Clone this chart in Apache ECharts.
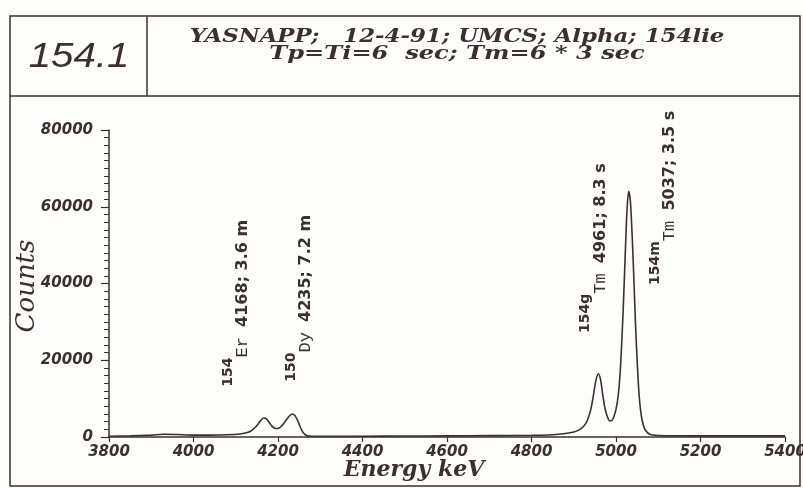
<!DOCTYPE html>
<html>
<head>
<meta charset="utf-8">
<script src="https://cdn.jsdelivr.net/npm/echarts@6/dist/echarts.min.js"></script>
<style>
  html, body { margin: 0; padding: 0; background: #fdfdfb; }
  #chart { width: 803px; height: 488px; }
</style>
</head>
<body>
<div id="chart"></div>
<script>
// spectrum
const energy = [3800, 3850, 3900, 3930, 3960, 4000, 4040, 4080, 4110, 4125, 4135, 4145, 4153, 4160, 4166,
  4172, 4178, 4185, 4192, 4198, 4205, 4212, 4220, 4228, 4234, 4240, 4246, 4252, 4258, 4264, 4270, 4280,
  4300, 4400, 4500, 4600, 4700, 4800, 4850, 4880, 4900, 4915, 4925, 4932, 4940, 4946, 4952, 4958, 4963,
  4968, 4973, 4978, 4985, 4990, 4995, 5000, 5005, 5010, 5015, 5018, 5022, 5026, 5030, 5034, 5038, 5042,
  5046, 5050, 5055, 5060, 5065, 5070, 5080, 5100, 5200, 5300, 5400]
const counts = [200, 300, 500, 700, 650, 500, 500, 600, 800, 1100, 1500, 2400, 3400, 4400, 4950,
  4800, 4000, 2900, 2300, 2200, 2500, 3300, 4500, 5600, 6000, 5600, 4400, 2800, 1400, 600, 300, 200,
  150, 200, 250, 300, 350, 450, 600, 900, 1300, 2000, 3000, 4300, 7000, 10500, 14500, 16500, 15200,
  11500, 8000, 5800, 4200, 4300, 5300, 7200, 10500, 17000, 28000, 36000, 48000, 59000, 64000, 61500, 53000, 42000,
  30000, 20000, 10500, 5500, 3000, 1700, 700, 400, 300, 300, 300]

// peak annotations: [energy, counts] of the label start
const peakMass = ['154', '150', '154g', '154m']
const peakElem = ['Er', 'Dy', 'Tm', 'Tm']
const peakText = ['4168; 3.6 m', '4235; 7.2 m', '4961; 8.3 s', '5037; 3.5 s']
const peakAnchor = [[4101, 13100], [4250, 14400], [4947, 27100], [5111, 39600]]

const ink = '#3b302e'

const chart = echarts.init(document.getElementById('chart'))

const tickFont = {
  color: ink, fontFamily: 'DejaVu Sans', fontStyle: 'italic', fontWeight: 'bold', fontSize: 15
}

const option = {
  backgroundColor: '#fdfdfb',
  animation: false,
  grid: { left: 109, right: 18, top: 130, bottom: 51, outerBoundsMode: 'none', containLabel: false },
  xAxis: {
    type: 'value',
    min: 3800,
    max: 5400,
    interval: 200,
    axisLine: { lineStyle: { color: ink, width: 1.5 } },
    axisTick: { length: 5, lineStyle: { color: ink, width: 1.2 } },
    axisLabel: Object.assign({ margin: 8, formatter: v => String(v) }, tickFont),
    splitLine: { show: false }
  },
  yAxis: {
    type: 'value',
    min: 0,
    max: 80000,
    interval: 20000,
    axisLine: { show: true, lineStyle: { color: ink, width: 1.5 } },
    axisTick: { show: true, length: 8, lineStyle: { color: ink, width: 1.2 } },
    minorTick: { show: true, splitNumber: 10, length: 5, lineStyle: { color: ink, width: 1 } },
    axisLabel: Object.assign({ margin: 16, formatter: v => String(v) }, tickFont),
    splitLine: { show: false }
  },
  series: [{
    type: 'line',
    data: energy.map((e, i) => [e, counts[i]]),
    smooth: 0.3,
    symbol: 'none',
    lineStyle: { color: ink, width: 1.6 },
    markPoint: {
      symbol: 'circle',
      symbolSize: 1,
      itemStyle: { color: 'transparent' },
      data: peakAnchor.map((c, i) => ({
        coord: c,
        label: {
          show: true,
          position: 'inside',
          rotate: 90,
          align: 'left',
          verticalAlign: 'middle',
          lineHeight: 30,
          formatter: '{sup|' + peakMass[i] + '}{el|' + peakElem[i] + ' }{txt|' + peakText[i] + '}',
          rich: {
            sup: { fontFamily: 'DejaVu Sans', fontWeight: 'bold', fontSize: 14, color: ink, verticalAlign: 'top' },
            el: { fontFamily: 'Liberation Mono', fontSize: 17, color: ink, verticalAlign: 'bottom' },
            txt: { fontFamily: 'DejaVu Sans', fontWeight: 'bold', fontSize: 16, color: ink, verticalAlign: 'bottom' }
          }
        }
      }))
    }
  }],
  graphic: [
    { type: 'rect', shape: { x: 10, y: 16, width: 790, height: 470 }, style: { fill: 'none', stroke: ink, lineWidth: 1.5 } },
    { type: 'line', shape: { x1: 10, y1: 96, x2: 800, y2: 96 }, style: { stroke: ink, lineWidth: 1.5 } },
    { type: 'line', shape: { x1: 147, y1: 16, x2: 147, y2: 96 }, style: { stroke: ink, lineWidth: 1.5 } },
    {
      type: 'text', x: 79, y: 57, scaleX: 1.15,
      style: { text: '154.1', fill: ink, font: 'italic 35px "Liberation Sans"', align: 'center', verticalAlign: 'middle' }
    },
    {
      type: 'text', x: 457, y: 37, scaleX: 1.27,
      style: { text: 'YASNAPP;   12-4-91; UMCS; Alpha; 154lie', fill: ink, font: 'italic bold 18px "DejaVu Serif"', align: 'center', verticalAlign: 'middle' }
    },
    {
      type: 'text', x: 457, y: 54, scaleX: 1.34,
      style: { text: 'Tp=Ti=6  sec; Tm=6 * 3 sec', fill: ink, font: 'italic bold 18px "DejaVu Serif"', align: 'center', verticalAlign: 'middle' }
    },
    {
      type: 'text', x: 414, y: 470,
      style: { text: 'Energy keV', fill: ink, font: 'italic bold 22px "DejaVu Serif"', align: 'center', verticalAlign: 'middle' }
    },
    {
      type: 'text', x: 27, y: 286, rotation: Math.PI / 2,
      style: { text: 'Counts', fill: ink, font: 'italic 26px "DejaVu Serif"', align: 'center', verticalAlign: 'middle' }
    }
  ]
}

chart.setOption(option)
</script>
</body>
</html>
